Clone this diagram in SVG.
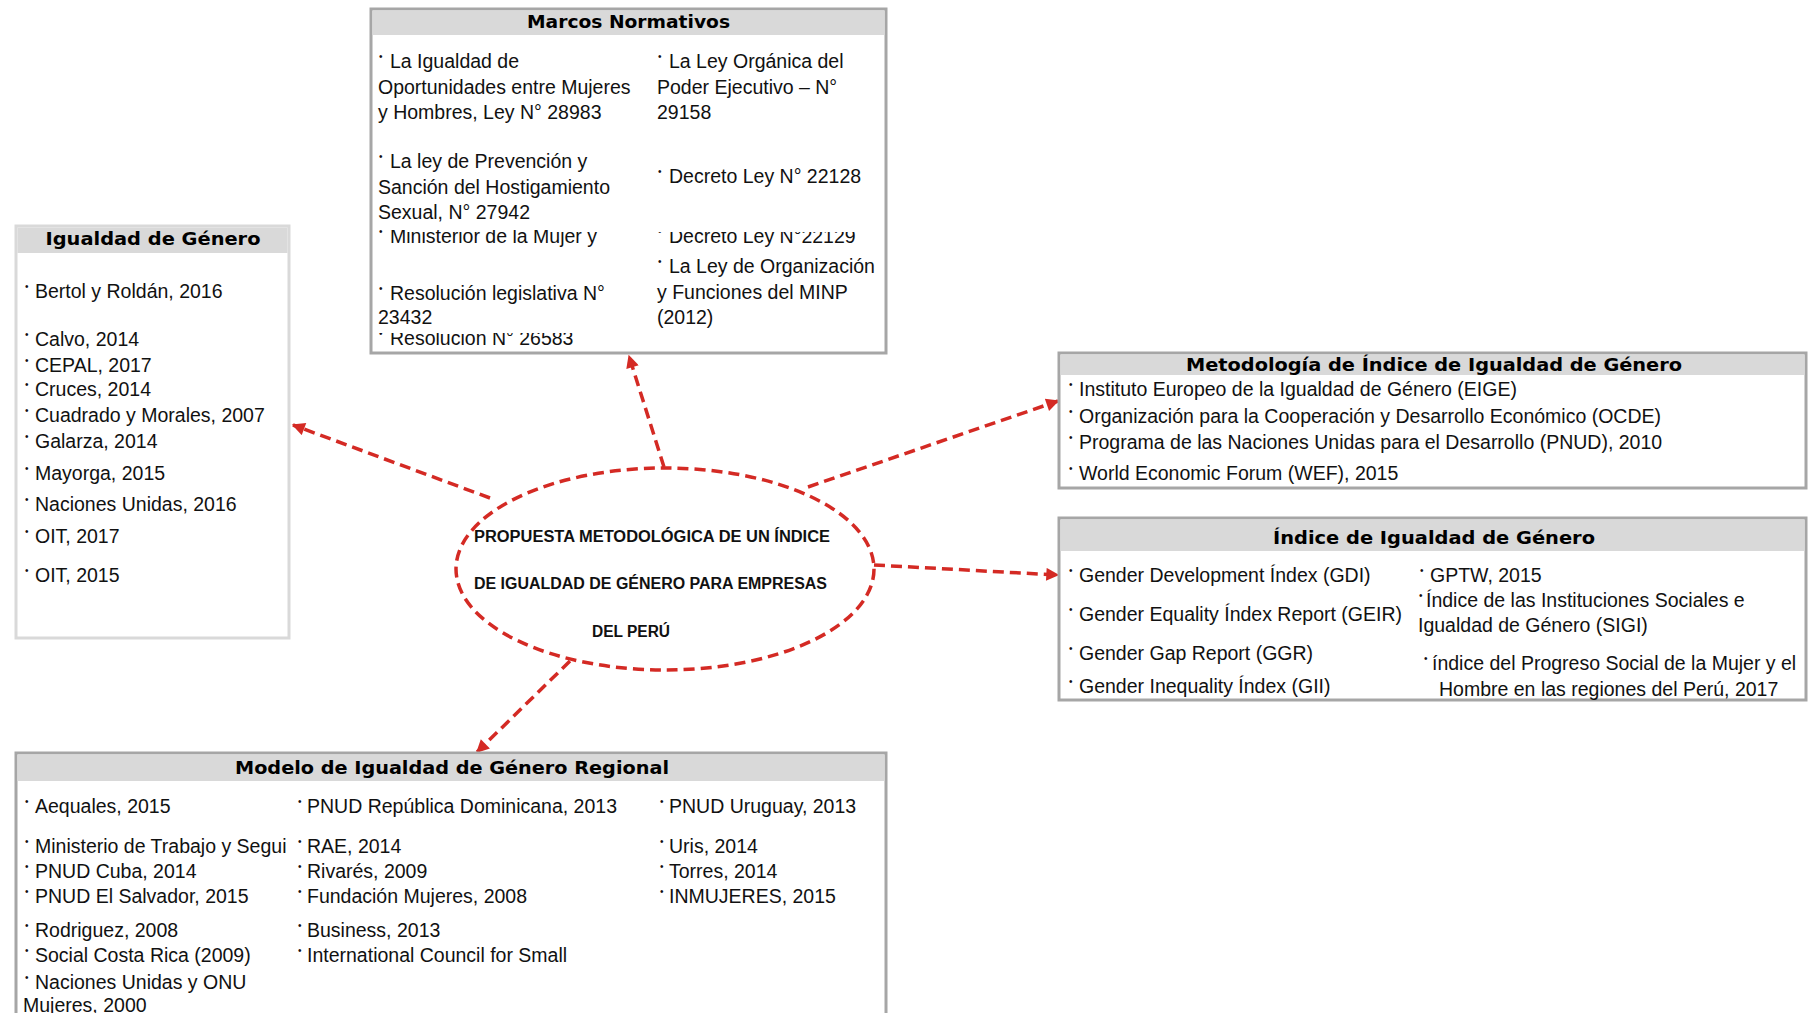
<svg xmlns="http://www.w3.org/2000/svg" width="1809" height="1013" viewBox="0 0 1809 1013">
  <style>
    .box { fill:#ffffff; stroke:#a6a6a6; stroke-width:3; }
    .box.light { stroke:#d9d9d9; }
    .hdr { fill:#d9d9d9; }
    .ht { font-family:"DejaVu Sans", "Liberation Sans", sans-serif; font-weight:bold; font-size:18px; fill:#000; text-anchor:middle; }
    .t { font-family:"Liberation Sans", Arial, sans-serif; font-size:19.5px; fill:#111; }
    .bu { font-size:10px; }
    .core { font-family:"Liberation Sans", Arial, sans-serif; font-weight:bold; font-size:16px; fill:#111; }
    .conn { fill:none; stroke:#d42a24; stroke-width:3.5; stroke-dasharray:11 6; }
  </style>
  <defs>
    <marker id="ah" viewBox="0 0 10 10" refX="9" refY="5" markerWidth="15" markerHeight="13" markerUnits="userSpaceOnUse" orient="auto">
      <path d="M0,0 L10,5 L0,10 z" fill="#d42a24"/>
    </marker>
    <!-- overlapping text boxes hide the tops of a few lines -->
    <clipPath id="cMin"><rect x="371" y="230" width="270" height="30"/></clipPath>
    <clipPath id="cDec"><rect x="640" y="232" width="240" height="30"/></clipPath>
    <clipPath id="cRes"><rect x="371" y="333" width="270" height="30"/></clipPath>
    <clipPath id="cMinTrab"><rect x="16" y="820" width="279" height="50"/></clipPath>
  </defs>

  <rect width="1809" height="1013" fill="#ffffff"/>

  <!-- connectors from the central ellipse to each box -->
  <g id="connectors">
    <path class="conn" d="M664,467 L629,356" marker-end="url(#ah)"/>
    <path class="conn" d="M490,498 L293,425" marker-end="url(#ah)"/>
    <path class="conn" d="M808,487 L1058,401" marker-end="url(#ah)"/>
    <path class="conn" d="M874,565 L1058,575" marker-end="url(#ah)"/>
    <path class="conn" d="M570,661 L477,752" marker-end="url(#ah)"/>
  </g>

  <!-- central proposal -->
  <g id="node-propuesta">
    <ellipse cx="665" cy="569" rx="209" ry="101" fill="none" stroke="#d42a24" stroke-width="3.5" stroke-dasharray="11 6"/>
    <text class="core" x="474" y="542" textLength="356" lengthAdjust="spacingAndGlyphs">PROPUESTA METODOLÓGICA DE UN ÍNDICE</text>
    <text class="core" x="474" y="589" textLength="353" lengthAdjust="spacingAndGlyphs">DE IGUALDAD DE GÉNERO PARA EMPRESAS</text>
    <text class="core" x="592" y="637" textLength="78" lengthAdjust="spacingAndGlyphs">DEL PERÚ</text>
  </g>

  <!-- Marcos Normativos -->
  <g id="node-marcos">
    <rect class="box" x="371" y="9" width="515" height="344"/>
    <rect class="hdr" x="372.5" y="10.5" width="512" height="24.5"/>
    <text class="ht" x="628.5" y="28" textLength="203" lengthAdjust="spacingAndGlyphs">Marcos Normativos</text>
    <text class="t" x="379" y="68"><tspan class="bu" dy="-8">•</tspan><tspan x="390" dy="8">La Igualdad de</tspan></text>
    <text class="t" x="378" y="94">Oportunidades entre Mujeres</text>
    <text class="t" x="378" y="119">y Hombres, Ley N° 28983</text>
    <text class="t" x="379" y="168"><tspan class="bu" dy="-8">•</tspan><tspan x="390" dy="8">La ley de Prevención y</tspan></text>
    <text class="t" x="378" y="194">Sanción del Hostigamiento</text>
    <text class="t" x="378" y="219">Sexual, N° 27942</text>
    <text class="t" x="379" y="243" clip-path="url(#cMin)"><tspan class="bu" dy="-8">•</tspan><tspan x="390" dy="8">Ministerior de la Mujer y</tspan></text>
    <text class="t" x="379" y="300"><tspan class="bu" dy="-8">•</tspan><tspan x="390" dy="8">Resolución legislativa N°</tspan></text>
    <text class="t" x="378" y="324">23432</text>
    <text class="t" x="379" y="345" clip-path="url(#cRes)"><tspan class="bu" dy="-8">•</tspan><tspan x="390" dy="8">Resolución N° 26583</tspan></text>
    <text class="t" x="658" y="68"><tspan class="bu" dy="-8">•</tspan><tspan x="669" dy="8">La Ley Orgánica del</tspan></text>
    <text class="t" x="657" y="94">Poder Ejecutivo – N°</text>
    <text class="t" x="657" y="119">29158</text>
    <text class="t" x="658" y="183"><tspan class="bu" dy="-8">•</tspan><tspan x="669" dy="8">Decreto Ley N° 22128</tspan></text>
    <text class="t" x="658" y="243" clip-path="url(#cDec)"><tspan class="bu" dy="-8">•</tspan><tspan x="669" dy="8">Decreto Ley N°22129</tspan></text>
    <text class="t" x="658" y="273"><tspan class="bu" dy="-8">•</tspan><tspan x="669" dy="8">La Ley de Organización</tspan></text>
    <text class="t" x="657" y="299">y Funciones del MINP</text>
    <text class="t" x="657" y="324">(2012)</text>
  </g>

  <!-- Igualdad de Género -->
  <g id="node-igualdad">
    <rect class="box light" x="16" y="226" width="273" height="412"/>
    <rect class="hdr" x="17.5" y="227.5" width="270" height="25.5"/>
    <text class="ht" x="153" y="245" textLength="215" lengthAdjust="spacingAndGlyphs">Igualdad de Género</text>
    <text class="t" x="25" y="298"><tspan class="bu" dy="-8">•</tspan><tspan x="35" dy="8">Bertol y Roldán, 2016</tspan></text>
    <text class="t" x="25" y="346"><tspan class="bu" dy="-8">•</tspan><tspan x="35" dy="8">Calvo, 2014</tspan></text>
    <text class="t" x="25" y="372"><tspan class="bu" dy="-8">•</tspan><tspan x="35" dy="8">CEPAL, 2017</tspan></text>
    <text class="t" x="25" y="396"><tspan class="bu" dy="-8">•</tspan><tspan x="35" dy="8">Cruces, 2014</tspan></text>
    <text class="t" x="25" y="422"><tspan class="bu" dy="-8">•</tspan><tspan x="35" dy="8">Cuadrado y Morales, 2007</tspan></text>
    <text class="t" x="25" y="448"><tspan class="bu" dy="-8">•</tspan><tspan x="35" dy="8">Galarza, 2014</tspan></text>
    <text class="t" x="25" y="480"><tspan class="bu" dy="-8">•</tspan><tspan x="35" dy="8">Mayorga, 2015</tspan></text>
    <text class="t" x="25" y="511"><tspan class="bu" dy="-8">•</tspan><tspan x="35" dy="8">Naciones Unidas, 2016</tspan></text>
    <text class="t" x="25" y="543"><tspan class="bu" dy="-8">•</tspan><tspan x="35" dy="8">OIT, 2017</tspan></text>
    <text class="t" x="25" y="582"><tspan class="bu" dy="-8">•</tspan><tspan x="35" dy="8">OIT, 2015</tspan></text>
  </g>

  <!-- Metodología de Índice de Igualdad de Género -->
  <g id="node-metodologia">
    <rect class="box" x="1059" y="353" width="747" height="135"/>
    <rect class="hdr" x="1060.5" y="354.5" width="744" height="20.5"/>
    <text class="ht" x="1434" y="371" textLength="496" lengthAdjust="spacingAndGlyphs">Metodología de Índice de Igualdad de Género</text>
    <text class="t" x="1069" y="396"><tspan class="bu" dy="-8">•</tspan><tspan x="1079" dy="8">Instituto Europeo de la Igualdad de Género (EIGE)</tspan></text>
    <text class="t" x="1069" y="423"><tspan class="bu" dy="-8">•</tspan><tspan x="1079" dy="8">Organización para la Cooperación y Desarrollo Económico (OCDE)</tspan></text>
    <text class="t" x="1069" y="449"><tspan class="bu" dy="-8">•</tspan><tspan x="1079" dy="8">Programa de las Naciones Unidas para el Desarrollo (PNUD), 2010</tspan></text>
    <text class="t" x="1069" y="480"><tspan class="bu" dy="-8">•</tspan><tspan x="1079" dy="8">World Economic Forum (WEF), 2015</tspan></text>
  </g>

  <!-- Índice de Igualdad de Género -->
  <g id="node-indice">
    <rect class="box" x="1059" y="518" width="747" height="182"/>
    <rect class="hdr" x="1060.5" y="519.5" width="744" height="31.5"/>
    <text class="ht" x="1434" y="544" textLength="322" lengthAdjust="spacingAndGlyphs">Índice de Igualdad de Género</text>
    <text class="t" x="1069" y="582"><tspan class="bu" dy="-8">•</tspan><tspan x="1079" dy="8">Gender Development Índex (GDI)</tspan></text>
    <text class="t" x="1069" y="621"><tspan class="bu" dy="-8">•</tspan><tspan x="1079" dy="8">Gender Equality Índex Report (GEIR)</tspan></text>
    <text class="t" x="1069" y="660"><tspan class="bu" dy="-8">•</tspan><tspan x="1079" dy="8">Gender Gap Report (GGR)</tspan></text>
    <text class="t" x="1069" y="693"><tspan class="bu" dy="-8">•</tspan><tspan x="1079" dy="8">Gender Inequality Índex (GII)</tspan></text>
    <text class="t" x="1420" y="582"><tspan class="bu" dy="-8">•</tspan><tspan x="1430" dy="8">GPTW, 2015</tspan></text>
    <text class="t" x="1419" y="607"><tspan class="bu" dy="-8">•</tspan><tspan x="1426" dy="8">Índice de las Instituciones Sociales e</tspan></text>
    <text class="t" x="1418" y="632">Igualdad de Género (SIGI)</text>
    <text class="t" x="1424" y="670"><tspan class="bu" dy="-8">•</tspan><tspan x="1432" dy="8">índice del Progreso Social de la Mujer y el</tspan></text>
    <text class="t" x="1439" y="696">Hombre en las regiones del Perú, 2017</text>
  </g>

  <!-- Modelo de Igualdad de Género Regional -->
  <g id="node-modelo">
    <rect class="box" x="16" y="753" width="870" height="290"/>
    <rect class="hdr" x="17.5" y="754.5" width="867" height="26.5"/>
    <text class="ht" x="452" y="774" textLength="434" lengthAdjust="spacingAndGlyphs">Modelo de Igualdad de Género Regional</text>
    <text class="t" x="25" y="813"><tspan class="bu" dy="-8">•</tspan><tspan x="35" dy="8">Aequales, 2015</tspan></text>
    <text class="t" x="25" y="853" clip-path="url(#cMinTrab)"><tspan class="bu" dy="-8">•</tspan><tspan x="35" dy="8">Ministerio de Trabajo y Segui</tspan></text>
    <text class="t" x="25" y="878"><tspan class="bu" dy="-8">•</tspan><tspan x="35" dy="8">PNUD Cuba, 2014</tspan></text>
    <text class="t" x="25" y="903"><tspan class="bu" dy="-8">•</tspan><tspan x="35" dy="8">PNUD El Salvador, 2015</tspan></text>
    <text class="t" x="25" y="937"><tspan class="bu" dy="-8">•</tspan><tspan x="35" dy="8">Rodriguez, 2008</tspan></text>
    <text class="t" x="25" y="962"><tspan class="bu" dy="-8">•</tspan><tspan x="35" dy="8">Social Costa Rica (2009)</tspan></text>
    <text class="t" x="25" y="989"><tspan class="bu" dy="-8">•</tspan><tspan x="35" dy="8">Naciones Unidas y ONU</tspan></text>
    <text class="t" x="23" y="1012">Mujeres, 2000</text>
    <text class="t" x="298" y="813"><tspan class="bu" dy="-8">•</tspan><tspan x="307" dy="8">PNUD República Dominicana, 2013</tspan></text>
    <text class="t" x="298" y="853"><tspan class="bu" dy="-8">•</tspan><tspan x="307" dy="8">RAE, 2014</tspan></text>
    <text class="t" x="298" y="878"><tspan class="bu" dy="-8">•</tspan><tspan x="307" dy="8">Rivarés, 2009</tspan></text>
    <text class="t" x="298" y="903"><tspan class="bu" dy="-8">•</tspan><tspan x="307" dy="8">Fundación Mujeres, 2008</tspan></text>
    <text class="t" x="298" y="937"><tspan class="bu" dy="-8">•</tspan><tspan x="307" dy="8">Business, 2013</tspan></text>
    <text class="t" x="298" y="962"><tspan class="bu" dy="-8">•</tspan><tspan x="307" dy="8">International Council for Small</tspan></text>
    <text class="t" x="660" y="813"><tspan class="bu" dy="-8">•</tspan><tspan x="669" dy="8">PNUD Uruguay, 2013</tspan></text>
    <text class="t" x="660" y="853"><tspan class="bu" dy="-8">•</tspan><tspan x="669" dy="8">Uris, 2014</tspan></text>
    <text class="t" x="660" y="878"><tspan class="bu" dy="-8">•</tspan><tspan x="669" dy="8">Torres, 2014</tspan></text>
    <text class="t" x="660" y="903"><tspan class="bu" dy="-8">•</tspan><tspan x="669" dy="8">INMUJERES, 2015</tspan></text>
  </g>
</svg>
